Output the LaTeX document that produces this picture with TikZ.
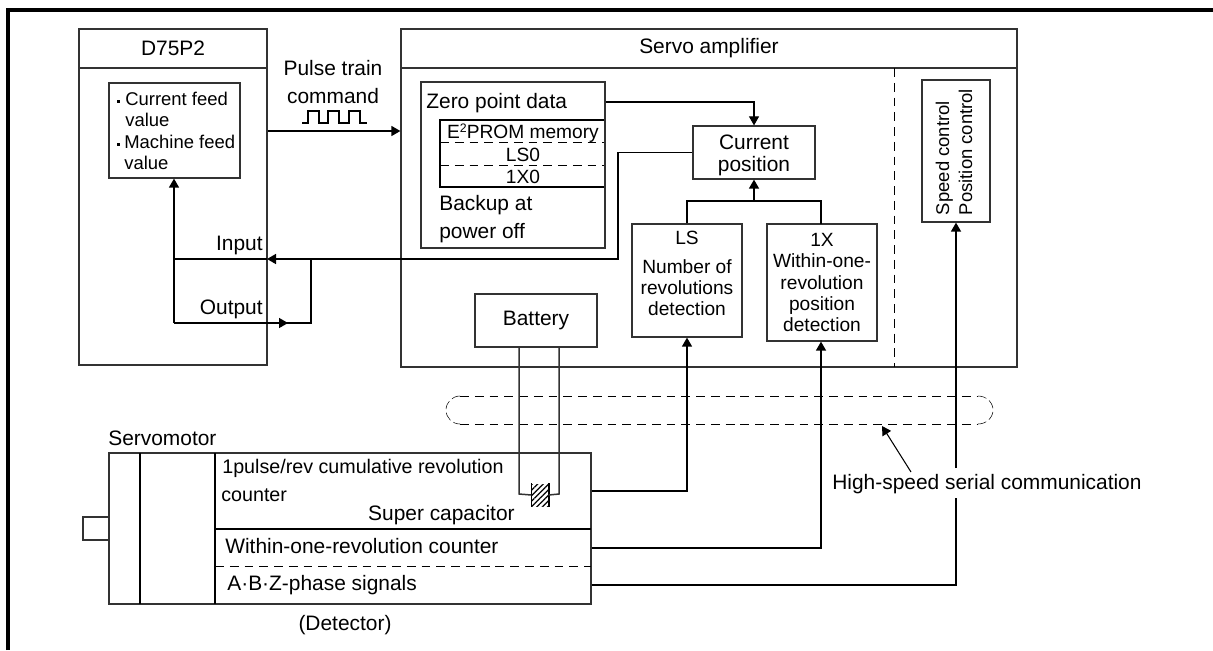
\documentclass[tikz,border=0pt]{standalone}
\usepackage{fontspec}
\setmainfont{Liberation Sans}
\usetikzlibrary{positioning,arrows.meta,patterns.meta}
\definecolor{edgeg}{RGB}{50,50,50}

\begin{document}
\begin{tikzpicture}[
  x=0.2mm, y=-0.2mm,
  font=\fontsize{11.9}{12.2}\selectfont,
  box/.style={draw=edgeg, line width=0.7pt, fill=white, inner sep=0pt, align=center},
  lbl/.style={inner sep=0pt, anchor=base west},
  mid/.style={inner sep=0pt, anchor=base},
  small/.style={font=\fontsize{10.9}{12}\selectfont},
  tinyl/.style={font=\fontsize{10.5}{12}\selectfont},
  mots/.style={font=\fontsize{11.2}{12}\selectfont},
  sig/.style={line width=0.85pt, -{Triangle[length=1.8mm,width=2mm]}},
  wire/.style={line width=0.85pt},
  thinw/.style={line width=0.85pt, draw=edgeg},
  dashl/.style={line width=0.5pt, dash pattern=on 5pt off 3.4pt},
  arcl/.style={line width=0.3pt, dash pattern=on 5pt off 2pt},
]
\useasboundingbox (0,0) rectangle (1213,650);

% ---------- outer frame ----------
\draw[line width=2.27pt] (8,650) -- (8,10) -- (1213,10);

% ---------- positioning module ----------
\node[box, minimum width=37.6mm, minimum height=67.2mm] (d75) at (173,197) {};
\node[box, minimum width=37.6mm, minimum height=7.8mm] (d75head) at (173,48.5) {D75P2};
\node[box, minimum width=26.2mm, minimum height=19mm] (feed) at (174.5,130.5) {};
\node[lbl, tinyl] (fa) at (125,105) {Current feed};
\node[lbl, tinyl] (fb) at (125,126) {value};
\node[lbl, tinyl] (fc) at (124,148) {Machine feed};
\node[lbl, tinyl] (fd) at (124,169) {value};
\node[fill=black, minimum size=0.6mm, inner sep=0pt] (fe) at (118.5,101) {};
\node[fill=black, minimum size=0.6mm, inner sep=0pt] (ff) at (118.5,144) {};
\node[lbl, anchor=base east] (inp) at (263,250) {Input};
\node[lbl, anchor=base east] (outp) at (263,314) {Output};

% ---------- pulse command ----------
\node[align=center, inner sep=0pt, font=\fontsize{11.9}{16.4}\selectfont] (pulse) at (333,82)
  {Pulse train\\command};
\draw[line width=0.7pt] (302,123) -- (308,123) -- (308,111) -- (319,111) -- (319,123)
  -- (328,123) -- (328,111) -- (339,111) -- (339,123)
  -- (349,123) -- (349,111) -- (360,111) -- (360,123) -- (367,123);

% ---------- servo amplifier ----------
\node[box, minimum width=123.2mm, minimum height=67.6mm] (amp) at (709,198) {};
\node[box, minimum width=123.2mm, minimum height=7.8mm] (amphead) at (709,48.5) {Servo amplifier};
\draw[dashl] (894,68) -- (894,367);

\node[box, minimum width=36.8mm, minimum height=33.2mm] (zero) at (513,165) {};
\node[lbl] (zerot) at (426,108) {Zero point data};
\draw[wire] (604,120) -- (440,120) -- (440,187) -- (604,187);
\draw[dashl] (440,142) -- (604,142);
\draw[dashl] (440,165) -- (604,165);
\node[mid, small] (eep) at (523,138)
  {E\raisebox{0.5ex}{\fontsize{7}{7}\selectfont 2}PROM memory};
\node[mid, small] (ls0) at (523,161) {LS0};
\node[mid, small] (x0) at (523,183) {1X0};
\node[lbl] (bk1) at (439,210) {Backup at};
\node[lbl] (bk2) at (439,238) {power off};

\node[box, minimum width=24.4mm, minimum height=10.6mm] (cur) at (754,152.5) {};
\node[align=center, inner sep=0pt, font=\fontsize{11.9}{12.5}\selectfont] (curt) at (754,155)
  {Current\\position};
\node[box, minimum width=22mm, minimum height=22.6mm] (ls) at (687,280.5) {};
\node[align=center, inner sep=0pt, small] (lst) at (687,273.5)
  {LS\\[4pt]Number of\\revolutions\\detection};
\node[box, minimum width=22mm, minimum height=23.4mm, small] (onex) at (822,282.5)
  {1X\\Within-one-\\revolution\\position\\detection};
\node[box, minimum width=13.6mm, minimum height=28.4mm] (ctrl) at (956,151) {};
\node[rotate=90, align=left, inner sep=0pt, tinyl, font=\fontsize{10.5}{13}\selectfont] (ctrlt) at (954,152)
  {Speed control\\Position control};
\node[box, minimum width=24.4mm, minimum height=10.6mm] (batt) at (536,320.5) {Battery};

% ---------- communication band ----------
\draw[dashl] (460,396) -- (978,396);
\draw[dashl] (460,424) -- (978,424);
\draw[arcl] (460,396) arc[start angle=270, end angle=90, x radius=14, y radius=14];
\draw[arcl] (978,396) arc[start angle=270, end angle=450, x radius=15, y radius=14];

% ---------- servomotor ----------
\node[lbl] (smot) at (108,445) {Servomotor};
\node[box, minimum width=96.4mm, minimum height=30.2mm] (motor) at (350,528.5) {};
\node[box, minimum width=5.2mm, minimum height=4.6mm] (shaft) at (96,528.5) {};
\draw[wire] (140,453) -- (140,604);
\draw[wire] (215,453) -- (215,604);
\draw[wire] (215,529) -- (591,529);
\draw[dashl] (215,566) -- (591,566);
\node[lbl, mots] (rc1) at (222,473) {1pulse/rev cumulative revolution};
\node[lbl, mots] (rc2) at (221,501) {counter};
\node[lbl, anchor=base east] (scap) at (515,520) {Super capacitor};
\node[lbl] (wrc) at (225,553) {Within-one-revolution counter};
\node[lbl] (abz) at (227,590) {A·B·Z-phase signals};
\node[mid] (det) at (345,630) {(Detector)};

% ---------- super capacitor and battery wires ----------
\coordinate (cw) at (519,347);
\coordinate (ce) at (559,347);
\node[minimum width=3.2mm, minimum height=4.4mm, inner sep=0pt,
      pattern={Lines[angle=45,distance=2.2pt,line width=0.7pt]}] (cap) at (540,495) {};
\draw[line width=1pt] (cap.north west) -- (cap.south west);
\draw[line width=1pt] (cap.north east) -- (cap.south east);
\draw[thinw] (cw) -- (519,494) -- (cap.west);
\draw[thinw] (ce) -- (559,494) -- (cap.east);

% ---------- connectors ----------
\draw[sig] (d75.east |- 0,131) -- (amp.west |- 0,131);
\draw[sig, line width=0.6pt] (zero.east |- 0,102) -- (cur.north |- 0,102) -- (cur.north);
\draw[sig] (cur.west) -- (618,152.5) -- (618,259) -- (267,259);
\draw[wire] (267,259) -- (174,259);
\draw[sig] (174,323) -- (feed.south -| 174,0);
\draw[wire] (174,323) -- (311,323) -- (311,259);
\draw[sig] (174,323) -- (288,323);
\draw[wire] (ls.north) -- (687,201) -- (821,201) -- (821,224);
\draw[sig] (754,201) -- (cur.south);
\draw[sig] (motor.east |- 0,491) -- (687,491) -- (ls.south);
\draw[sig] (motor.east |- 0,548) -- (821,548) -- (onex.south -| 821,0);
\draw[wire] (motor.east |- 0,585) -- (956,585) -- (956,498);
\draw[sig] (956,468) -- (ctrl.south);

% ---------- callout ----------
\node[lbl] (hss) at (832,489) {High-speed serial communication};
\coordinate (band) at (882,426);
\draw[sig, line width=0.6pt] (911,472) -- (band);
\end{tikzpicture}
\end{document}
